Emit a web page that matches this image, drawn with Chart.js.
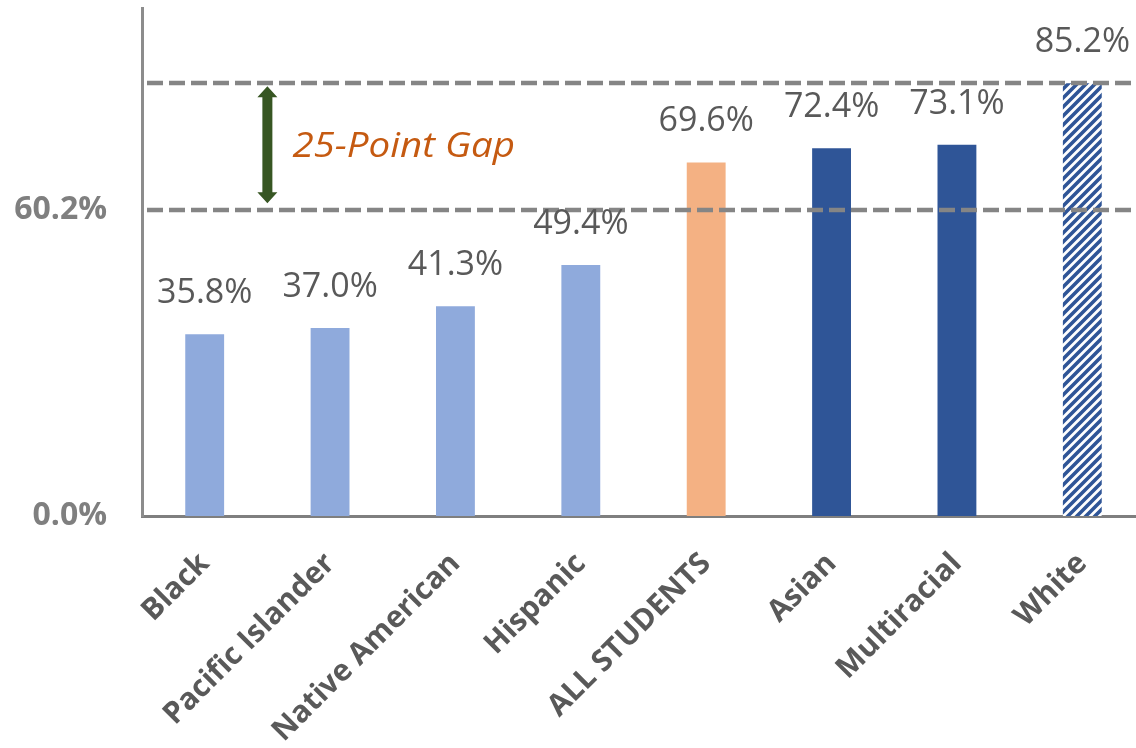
<!DOCTYPE html>
<html>
<head>
<meta charset="utf-8">
<script src="https://cdn.jsdelivr.net/npm/chart.js@4.4.1/dist/chart.umd.min.js"></script>
<style>
  html, body { margin: 0; padding: 0; background: #fff; overflow: hidden; }
  #wrap { width: 1146px; height: 748px; }
</style>
</head>
<body>
<div id="wrap"><canvas id="chart" width="1146" height="748"></canvas></div>
<script>
// data
var groups = ['Black', 'Pacific Islander', 'Native American', 'Hispanic', 'ALL STUDENTS', 'Asian', 'Multiracial', 'White'];
var rates = [35.8, 37.0, 41.3, 49.4, 69.6, 72.4, 73.1, 85.2];
var yTicks = [0, 60.2];
var gapLines = [85.2, 60.2];
var gapText = '25-Point Gap';

var FONT = "'Open Sans', 'DejaVu Sans', sans-serif";

function makeHatch(color) {
    var s = 9;
    var c = document.createElement('canvas');
    c.width = s;
    c.height = s;
    var g = c.getContext('2d');
    g.fillStyle = '#ffffff';
    g.fillRect(0, 0, s, s);
    g.strokeStyle = color;
    g.lineWidth = 3.6;
    g.beginPath();
    g.moveTo(-1, s + 1); g.lineTo(s + 1, -1);
    g.moveTo(-2, 2); g.lineTo(2, -2);
    g.moveTo(s - 2, s + 2); g.lineTo(s + 2, s - 2);
    g.stroke();
    return g.createPattern(c, 'repeat');
}

var barColors = [];
for (let i = 0; i < groups.length; i++) {
    if (groups[i] == 'ALL STUDENTS') {
        barColors.push('#f4b183');
    } else if (i < 4) {
        barColors.push('#8faadc');
    } else if (groups[i] == 'White') {
        barColors.push(makeHatch('#2f5597'));
    } else {
        barColors.push('#2f5597');
    }
}

// value labels above the bars, gap lines, arrow and note
var overlay = {
    id: 'overlay',
    afterDatasetsDraw: function (chart) {
        var ctx = chart.ctx;
        var x = chart.scales.x;
        var y = chart.scales.y;
        var area = chart.chartArea;
        var meta = chart.getDatasetMeta(0);

        ctx.save();
        // dashed reference lines
        ctx.strokeStyle = '#858585';
        ctx.lineWidth = 4.5;
        ctx.setLineDash([16, 6]);
        for (let i = 0; i < gapLines.length; i++) {
            var py = Math.round(y.getPixelForValue(gapLines[i]));
            ctx.beginPath();
            ctx.moveTo(area.left + 5, py);
            ctx.lineTo(area.right, py);
            ctx.stroke();
        }
        ctx.setLineDash([]);

        // double arrow between the lines
        var ax = x.getPixelForValue(0.5);
        var top = y.getPixelForValue(gapLines[0]) + 3;
        var bot = y.getPixelForValue(gapLines[1]) - 7;
        var head = 11, hw = 10, sw = 5;
        ctx.fillStyle = '#375623';
        ctx.beginPath();
        ctx.moveTo(ax, top);
        ctx.lineTo(ax + hw, top + head);
        ctx.lineTo(ax + sw, top + head);
        ctx.lineTo(ax + sw, bot - head);
        ctx.lineTo(ax + hw, bot - head);
        ctx.lineTo(ax, bot);
        ctx.lineTo(ax - hw, bot - head);
        ctx.lineTo(ax - sw, bot - head);
        ctx.lineTo(ax - sw, top + head);
        ctx.lineTo(ax - hw, top + head);
        ctx.closePath();
        ctx.fill();

        // note, stretched a little to the width of the original face
        ctx.save();
        ctx.translate(ax + 25, (top + bot) / 2 + 12);
        ctx.scale(1.1, 1);
        ctx.font = 'italic 35px ' + FONT;
        ctx.fillStyle = '#c55a11';
        ctx.textAlign = 'left';
        ctx.textBaseline = 'alphabetic';
        ctx.fillText(gapText, 0, 0);
        ctx.restore();

        // values
        ctx.font = '34px ' + FONT;
        ctx.fillStyle = '#595959';
        ctx.textAlign = 'center';
        ctx.textBaseline = 'alphabetic';
        meta.data.forEach(function (bar, i) {
            ctx.fillText(rates[i].toFixed(1) + '%', bar.x, bar.y - 31);
        });
        ctx.restore();
    }
};

var ctx = document.getElementById('chart').getContext('2d');
new Chart(ctx, {
    type: 'bar',
    data: {
        labels: groups,
        datasets: [{
            data: rates,
            backgroundColor: barColors,
            borderWidth: 0,
            barPercentage: 0.31,
            categoryPercentage: 1
        }]
    },
    options: {
        responsive: false,
        animation: false,
        devicePixelRatio: 1,
        layout: { padding: { top: 8, right: 1, left: 0, bottom: 0 } },
        plugins: {
            legend: { display: false },
            tooltip: { enabled: false }
        },
        scales: {
            x: {
                grid: { display: false, drawTicks: false },
                border: { display: true, color: '#7f7f7f', width: 3 },
                ticks: {
                    autoSkip: false,
                    minRotation: 45,
                    maxRotation: 45,
                    padding: 30,
                    color: '#595959',
                    font: { family: FONT, size: 30, weight: 'bold' }
                },
                afterFit: function (scale) {
                    scale.height = 232;
                    scale.paddingLeft = 0;
                    scale.paddingRight = 0;
                }
            },
            y: {
                min: 0,
                max: 100,
                grid: { display: false, drawTicks: false },
                border: { display: true, color: '#8c8c8c', width: 3 },
                afterBuildTicks: function (scale) {
                    scale.ticks = yTicks.map(function (v) { return { value: v }; });
                },
                ticks: {
                    padding: 35,
                    color: '#7f7f7f',
                    font: { family: FONT, size: 32, weight: 'bold' },
                    callback: function (v) { return Number(v).toFixed(1) + '%'; }
                },
                afterFit: function (scale) {
                    scale.width = 142;
                    scale.paddingTop = 0;
                    scale.paddingBottom = 0;
                }
            }
        }
    },
    plugins: [overlay]
});
</script>
</body>
</html>
